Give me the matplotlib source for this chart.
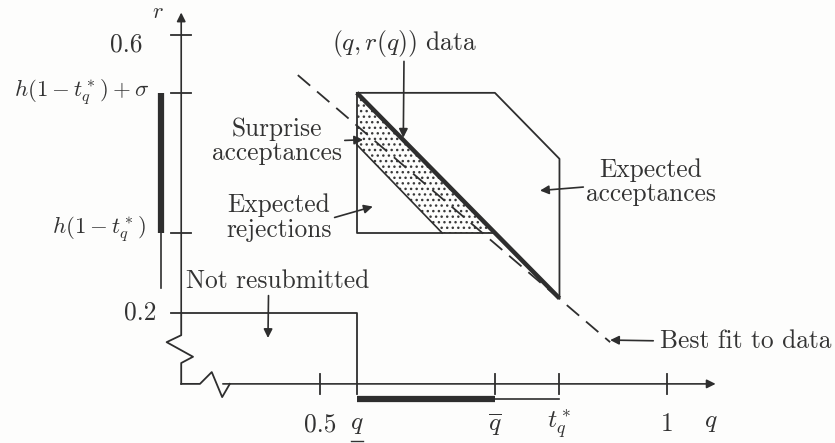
import matplotlib
matplotlib.use('Agg')
import matplotlib.pyplot as plt
from matplotlib.patches import Polygon

plt.rcParams['font.family'] = 'serif'
plt.rcParams['font.serif'] = ['cmr10']
plt.rcParams['mathtext.fontset'] = 'cm'
plt.rcParams['axes.formatter.use_mathtext'] = True
plt.rcParams['hatch.linewidth'] = 1.0

INK = '#2e2e2e'
TXT = '#333333'
FS = 18.3

# key values (q horizontal, r vertical)
q_lo, q_hi, t_star = 0.553, 0.752, 0.845
h_t, h_sig = 0.315, 0.5165
q0, r0 = 0.30, 0.098          # origin of the broken axes
r_low = 0.20

# (q, r(q)) data line
data_q = [q_lo, t_star]
data_r = [h_sig, 0.221]

# expected acceptances polygon
acc_q = [q_lo, q_hi, t_star, t_star]
acc_r = [h_sig, h_sig, 0.4216, 0.221]

# expected rejections box and surprise band
rej_q = [q_lo, q_lo, q_hi]
rej_r = [h_sig, h_t, h_t]
band_q = [q_lo, q_lo, 0.676, q_hi]
band_r = [h_sig, 0.442, h_t, h_t]

# best fit dashed line
fit_q = [0.468, 0.918]
fit_r = [0.542, 0.158]

# axis breaks
ybreak_q = [q0, q0, 0.279, 0.317, q0, q0]
ybreak_r = [r_low, 0.168, 0.158, 0.137, 0.128, r0]
xbreak_q = [q0, 0.327, 0.344, 0.359, 0.370, 1.07]
xbreak_r = [r0, r0, 0.115, 0.079, r0, r0]

x_ticks = [0.5, q_hi, t_star, 1.0]
x_labels = ['0.5', r'$\overline{q}$', r'$t_q^*$', '1']
y_ticks = [0.6, h_sig, h_t]

fig = plt.figure(figsize=(8.35, 4.43), dpi=100)
fig.patch.set_facecolor('#fdfdfc')
ax = fig.add_axes([0, 0, 1, 1])
ax.set_xlim(0.0389, 1.242)
ax.set_ylim(0.013, 0.650)
ax.axis('off')

arrow = dict(arrowstyle='-|>', color=INK, lw=1.2, mutation_scale=13,
             shrinkA=0, shrinkB=0)

# axes
ax.plot(ybreak_q, ybreak_r, color=INK, lw=1.3)
ax.plot(xbreak_q[:-1], xbreak_r[:-1], color=INK, lw=1.3)
ax.annotate('', xy=(1.07, r0), xytext=(0.36, r0), arrowprops=arrow)
ax.annotate('', xy=(q0, 0.632), xytext=(q0, r_low), arrowprops=arrow)

tk = 0.014
for t in x_ticks:
    ax.plot([t, t], [r0 - tk, r0 + tk], color=INK, lw=1.3)
for t in y_ticks:
    ax.plot([q0 - tk, q0 + tk], [t, t], color=INK, lw=1.3)

# not-resubmitted region
ax.plot([q0 - tk, q_lo, q_lo], [r_low, r_low, r0 - tk], color=INK, lw=1.3)

# range bars
ax.plot([q_lo, q_hi], [r0 - 0.022] * 2, color=INK, lw=4.5, solid_capstyle='butt')
ax.plot([q_hi, t_star], [r0 - 0.022] * 2, color=INK, lw=1.2)
ax.plot([q0 - 0.029] * 2, [h_t, h_sig], color=INK, lw=4.5, solid_capstyle='butt')
ax.plot([q0 - 0.029] * 2, [0.236, h_t], color=INK, lw=1.2)

# regions
ax.add_patch(Polygon(list(zip(band_q, band_r)), closed=True, facecolor='none',
                     edgecolor='#3a3a3a', hatch='...', lw=0))
ax.plot(band_q[1:3], band_r[1:3], color=INK, lw=1.2)
ax.plot(rej_q, rej_r, color=INK, lw=1.3)
ax.plot(acc_q, acc_r, color=INK, lw=1.3)
ax.plot(fit_q, fit_r, color=INK, lw=1.3, linestyle=(0, (9, 5)))
ax.plot(data_q, data_r, color=INK, lw=3.2, solid_capstyle='butt')

# tick labels
lab_r = 0.040
for t, s in zip(x_ticks, x_labels):
    ax.text(t, lab_r, s, ha='center', va='center', fontsize=FS, color=TXT)
ax.text(q_lo, lab_r, r'$q$', ha='center', va='center', fontsize=FS, color=TXT)
ax.plot([q_lo - 0.009, q_lo + 0.009], [lab_r - 0.024] * 2, color=TXT, lw=1.0)
ax.text(1.063, 0.043, r'$q$', ha='center', va='center', fontsize=FS, color=TXT)
ax.text(0.266, 0.632, r'$r$', ha='center', va='center', fontsize=FS - 2, color=TXT)
ax.text(0.244, 0.586, '0.6', ha='right', va='center', fontsize=FS, color=TXT)
ax.text(0.264, r_low, '0.2', ha='right', va='center', fontsize=FS, color=TXT)
ax.text(0.253, 0.517, r'$h(1-t_q^*)+\sigma$', ha='right', va='center',
        fontsize=16.5, color=TXT)
ax.text(0.249, 0.319, r'$h(1-t_q^*)$', ha='right', va='center',
        fontsize=16.5, color=TXT)

# annotations
ax.annotate(r'$(q,r(q))$ data', xy=(0.620, 0.452), xytext=(0.621, 0.588),
            ha='center', va='center', fontsize=FS, color=TXT,
            arrowprops=dict(arrow, relpos=(0.5, 0.0)))
ax.annotate('Surprise\nacceptances', xy=(0.562, 0.449), xytext=(0.438, 0.447),
            ha='center', va='center', fontsize=FS, color=TXT, linespacing=1.05,
            arrowprops=dict(arrow, relpos=(0.85, 0.5)))
ax.annotate('Expected\nrejections', xy=(0.576, 0.353), xytext=(0.441, 0.337),
            ha='center', va='center', fontsize=FS, color=TXT, linespacing=1.05,
            arrowprops=dict(arrow, relpos=(1.02, 0.5)))
ax.annotate('Expected\nacceptances', xy=(0.817, 0.376), xytext=(0.977, 0.388),
            ha='center', va='center', fontsize=FS, color=TXT, linespacing=1.05,
            arrowprops=dict(arrow, relpos=(-0.02, 0.4)))
ax.annotate('Not resubmitted', xy=(0.425, 0.164), xytext=(0.307, 0.246),
            ha='left', va='center', fontsize=FS, color=TXT,
            arrowprops=dict(arrow, relpos=(0.45, 0.0)))
ax.annotate('Best fit to data', xy=(0.918, 0.161), xytext=(0.990, 0.160),
            ha='left', va='center', fontsize=FS, color=TXT,
            arrowprops=dict(arrow, relpos=(-0.04, 0.5)))

fig.savefig('out.png', dpi=100, facecolor=fig.get_facecolor())
